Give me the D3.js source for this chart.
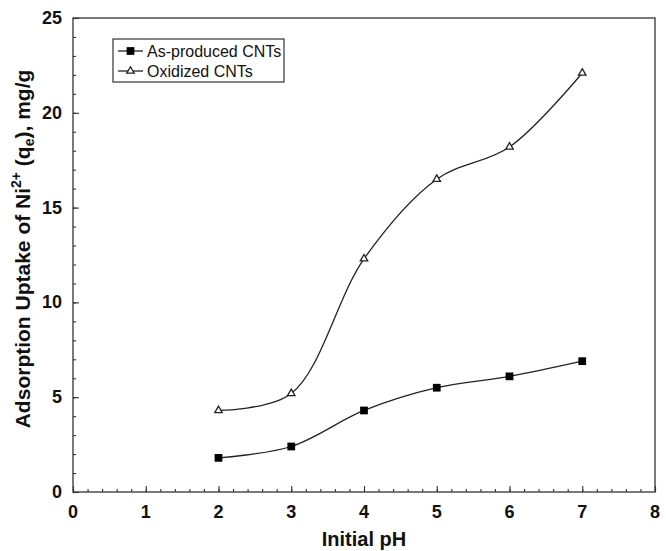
<!DOCTYPE html>
<html>
<head>
<meta charset="utf-8">
<script src="https://cdn.jsdelivr.net/npm/d3@7"></script>
<style>
  body { margin: 0; background: #fff; }
  text { font-family: Arial, "Liberation Sans", sans-serif; }
</style>
</head>
<body>
<div id="chart"></div>
<script>
// data
var phValues = [2, 3, 4, 5, 6, 7];
var asProduced = [1.8, 2.4, 4.3, 5.5, 6.1, 6.9];
var oxidized = [4.3, 5.2, 12.3, 16.5, 18.2, 22.1];
var seriesNames = ["As-produced CNTs", "Oxidized CNTs"];
var xTicks = [0, 1, 2, 3, 4, 5, 6, 7, 8];
var yTicks = [0, 5, 10, 15, 20, 25];

var W = 666, H = 551;
var margin = {top: 18, right: 11, bottom: 59, left: 73};
var width = W - margin.left - margin.right;
var height = H - margin.top - margin.bottom;

var svg = d3.select("#chart").append("svg")
    .attr("width", W)
    .attr("height", H);

var g = svg.append("g")
    .attr("transform", "translate(" + margin.left + "," + margin.top + ")");

var x = d3.scaleLinear().domain([0, 8]).range([0, width]);
var y = d3.scaleLinear().domain([0, 25]).range([height, 0]);

// minor ticks, pointing inward
var xMinor = d3.range(0, 8.0001, 0.2);
var yMinor = d3.range(0, 25.0001, 1);

g.append("g")
    .attr("transform", "translate(0," + height + ")")
    .call(d3.axisBottom(x).tickValues(xMinor).tickSize(-3).tickFormat(""))
    .call(function(s){ s.select(".domain").remove(); });

g.append("g")
    .call(d3.axisLeft(y).tickValues(yMinor).tickSize(-3).tickFormat(""))
    .call(function(s){ s.select(".domain").remove(); });

// major ticks
g.append("g")
    .attr("transform", "translate(0," + height + ")")
    .call(d3.axisBottom(x).tickValues(xTicks).tickSize(-6).tickFormat(""))
    .call(function(s){ s.select(".domain").remove(); });

g.append("g")
    .call(d3.axisLeft(y).tickValues(yTicks).tickSize(-6).tickFormat(""))
    .call(function(s){ s.select(".domain").remove(); });

g.selectAll(".tick line").attr("stroke", "#333").attr("stroke-width", 1.1);

// tick labels (bold)
g.selectAll(".xlab").data(xTicks).enter().append("text")
    .attr("class", "xlab")
    .attr("x", function(d){ return x(d); })
    .attr("y", height + 26)
    .attr("text-anchor", "middle")
    .style("font-size", "18px")
    .style("font-weight", "bold")
    .attr("fill", "#111")
    .text(function(d){ return d; });

g.selectAll(".ylab").data(yTicks).enter().append("text")
    .attr("class", "ylab")
    .attr("x", -11)
    .attr("y", function(d){ return y(d) + 6; })
    .attr("text-anchor", "end")
    .style("font-size", "18px")
    .style("font-weight", "bold")
    .attr("fill", "#111")
    .text(function(d){ return d; });

// frame
g.append("rect")
    .attr("width", width)
    .attr("height", height)
    .attr("fill", "none")
    .attr("stroke", "#333")
    .attr("stroke-width", 1.3);

// lines
var line = d3.line()
    .x(function(d){ return x(d[0]); })
    .y(function(d){ return y(d[1]); })
    .curve(d3.curveCatmullRom.alpha(0.5));

var s1 = phValues.map(function(p, i){ return [p, asProduced[i]]; });
var s2 = phValues.map(function(p, i){ return [p, oxidized[i]]; });

g.append("path").datum(s1)
    .attr("d", line)
    .attr("fill", "none")
    .attr("stroke", "#222")
    .attr("stroke-width", 1.3);

g.append("path").datum(s2)
    .attr("d", line)
    .attr("fill", "none")
    .attr("stroke", "#222")
    .attr("stroke-width", 1.3);

var square = d3.symbol().type(d3.symbolSquare).size(60);
var triangle = d3.symbol().type(d3.symbolTriangle).size(24);

g.selectAll(".sq").data(s1).enter().append("path")
    .attr("class", "sq")
    .attr("d", square)
    .attr("transform", function(d){ return "translate(" + x(d[0]) + "," + y(d[1]) + ")"; })
    .attr("fill", "#000");

g.selectAll(".tri").data(s2).enter().append("path")
    .attr("class", "tri")
    .attr("d", triangle)
    .attr("transform", function(d){ return "translate(" + x(d[0]) + "," + y(d[1]) + ")"; })
    .attr("fill", "#fff")
    .attr("stroke", "#222")
    .attr("stroke-width", 1.3);

// legend
var leg = svg.append("g").attr("transform", "translate(113,39)");
leg.append("rect")
    .attr("width", 171)
    .attr("height", 43)
    .attr("fill", "#fff")
    .attr("stroke", "#333")
    .attr("stroke-width", 1.2);

seriesNames.forEach(function(name, i){
    var yy = 12 + i * 20;
    var row = leg.append("g").attr("transform", "translate(0," + yy + ")");
    row.append("line")
        .attr("x1", 5).attr("x2", 30)
        .attr("stroke", "#222").attr("stroke-width", 1.3);
    row.append("path")
        .attr("d", i === 0 ? square : triangle)
        .attr("transform", "translate(17.5,0)")
        .attr("fill", i === 0 ? "#000" : "#fff")
        .attr("stroke", i === 0 ? "none" : "#222")
        .attr("stroke-width", 1.3);
    row.append("text")
        .attr("x", 34)
        .attr("y", 5.5)
        .attr("font-size", 16)
        .attr("fill", "#111")
        .text(name);
});

// axis titles
svg.append("text")
    .attr("x", margin.left + width / 2)
    .attr("y", 546)
    .attr("text-anchor", "middle")
    .attr("font-size", 20)
    .attr("font-weight", "bold")
    .attr("fill", "#111")
    .text("Initial pH");

var yt = svg.append("text")
    .attr("transform", "translate(30,249) rotate(-90)")
    .attr("text-anchor", "middle")
    .attr("font-size", 21)
    .attr("font-weight", "bold")
    .attr("fill", "#111");
yt.append("tspan").text("Adsorption Uptake of Ni");
yt.append("tspan").attr("font-size", 14).attr("dy", -9).text("2+");
yt.append("tspan").attr("dy", 9).text(" (q");
yt.append("tspan").attr("font-size", 14).attr("dy", 4).text("e");
yt.append("tspan").attr("dy", -4).text("), mg/g");
</script>
</body>
</html>
